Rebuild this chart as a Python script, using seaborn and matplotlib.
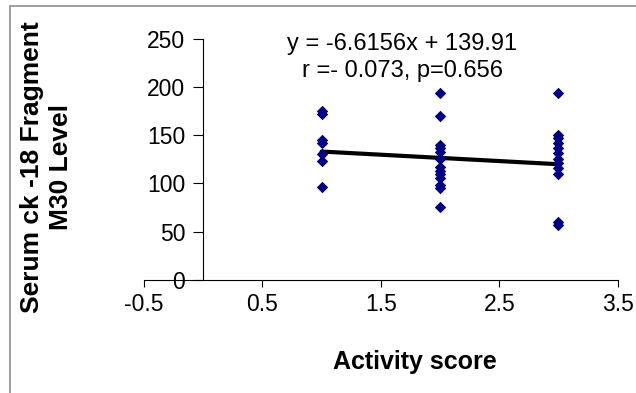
"""Serum ck-18 fragment M30 level vs activity score, with linear trendline."""

import matplotlib
matplotlib.use("Agg")
import matplotlib.pyplot as plt
from matplotlib.patches import Rectangle
import pandas as pd
import seaborn as sns

# values
score_1 = [175, 172, 145, 142, 131, 123, 96]
score_2 = [194, 170, 140, 137, 133, 126, 117, 113, 110, 106, 98, 95, 76]
score_3 = [194, 150, 147, 142, 137, 132, 126, 121, 116, 110, 60, 57]
activity_levels = [1, 2, 3]

# trendline as printed on the chart
slope = -6.6156
intercept = 139.91
equation_text = "y = -6.6156x + 139.91"
stats_text = "r =- 0.073, p=0.656"

x_ticks = [-0.5, 0.5, 1.5, 2.5, 3.5]
y_ticks = [0, 50, 100, 150, 200, 250]

sns.set_theme(style="white")
plt.rcParams["font.family"] = ["Liberation Sans", "DejaVu Sans"]
plt.rcParams["axes.unicode_minus"] = False
plt.rcParams["text.color"] = "black"
plt.rcParams["axes.labelcolor"] = "black"


def build_frame() -> pd.DataFrame:
    rows = []
    for level, values in zip(activity_levels, [score_1, score_2, score_3]):
        rows += [{"activity": level, "m30": v} for v in values]
    return pd.DataFrame(rows)


def main():
    df = build_frame()
    trend = pd.DataFrame({"activity": [activity_levels[0], activity_levels[-1]]})
    trend["m30"] = intercept + slope * trend["activity"]

    fig = plt.figure(figsize=(6.36, 3.93), dpi=100)
    ax = fig.add_axes([0.2264, 0.2888, 0.7448, 0.6107])

    sns.scatterplot(data=df, x="activity", y="m30", marker="D", s=34,
                    color="#000080", linewidth=0, ax=ax, zorder=3)
    sns.lineplot(data=trend, x="activity", y="m30", color="black",
                 linewidth=3.0, ax=ax, zorder=2)

    ax.set_xlim(-0.5, 3.5)
    ax.set_ylim(0, 250)
    ax.set_xticks(x_ticks)
    ax.set_xticklabels([f"{t:g}" for t in x_ticks])
    ax.set_yticks(y_ticks)

    for side in ["top", "right"]:
        ax.spines[side].set_visible(False)
    ax.spines["left"].set_position(("data", 0))
    for side in ["left", "bottom"]:
        ax.spines[side].set_color("black")
        ax.spines[side].set_linewidth(0.8)

    ax.tick_params(axis="y", direction="out", length=7, width=0.8,
                   pad=6, labelsize=16.5, colors="black", left=True)
    ax.tick_params(axis="x", direction="out", length=5, width=0.8,
                   pad=5, labelsize=16.5, colors="black", bottom=True)

    ax.set_xlabel("Activity score", fontsize=18, fontweight="bold",
                  va="center")
    ax.xaxis.set_label_coords(0.572, -0.3425)
    ax.set_ylabel("Serum ck -18 Fragment\nM30 Level", fontsize=19,
                  fontweight="bold", va="center", linespacing=1.25)
    ax.yaxis.set_label_coords(-0.2058, 0.469)

    ax.text(0.545, 0.925, equation_text + "\n" + stats_text,
            transform=ax.transAxes, ha="center", va="center",
            fontsize=17, linespacing=1.25)

    # outer chart frame, only top and left edges are inside the crop
    fig.patches.append(Rectangle((10 / 636, -0.5), 2, 1.5 - 6 / 393,
                                 transform=fig.transFigure, fill=False,
                                 edgecolor="#8c8c8c", linewidth=1.2))

    fig.savefig("out.png", dpi=100)
    plt.close(fig)


if __name__ == "__main__":
    main()
